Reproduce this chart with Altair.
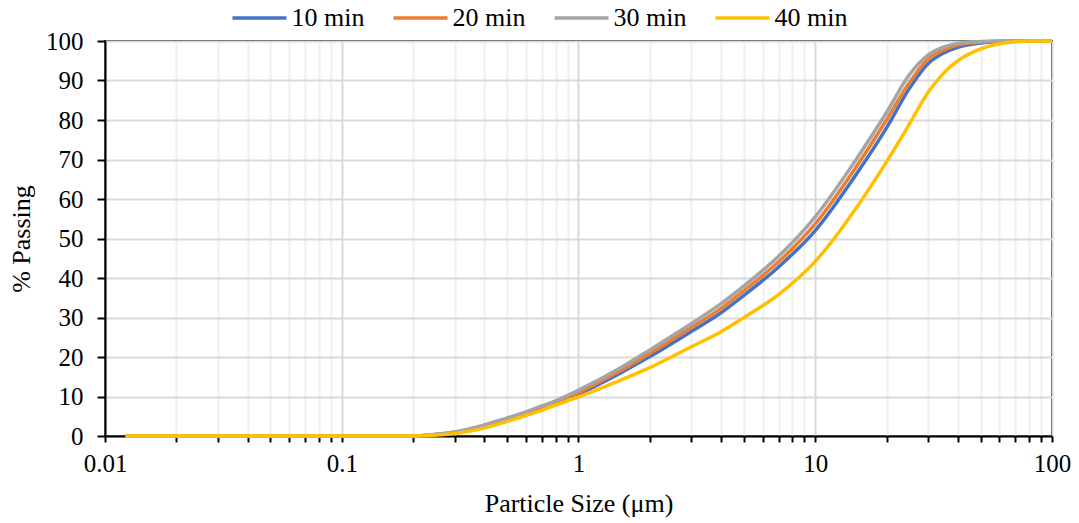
import altair as alt
import pandas as pd

# Particle size (µm) at which each cumulative curve is sampled
sizes = [0.0122, 0.05, 0.1, 0.15, 0.2, 0.25, 0.3, 0.4, 0.5, 0.6, 0.7, 0.8, 1, 1.5, 2, 3,
         4, 5, 7, 10, 15, 20, 25, 30, 35, 40, 50, 60, 70, 80, 100]

# Cumulative % passing for each grinding time
passing_10 = [0, 0, 0, 0, 0, 0.35, 0.85, 2.4, 4.0, 5.5, 6.9, 8.2, 10.6, 15.9, 20.1, 26.5,
              31.2, 35.6, 42.8, 52.0, 66.5, 78.0, 88.0, 94.3, 97.0, 98.4, 99.5, 99.85, 100, 100, 100]
passing_20 = [0, 0, 0, 0, 0, 0.4, 0.95, 2.6, 4.3, 5.8, 7.2, 8.5, 11.0, 16.5, 20.9, 27.5,
              32.3, 36.8, 44.1, 53.7, 68.4, 80.0, 89.5, 95.5, 97.8, 99.0, 99.7, 99.95, 100, 100, 100]
passing_30 = [0, 0, 0, 0, 0, 0.45, 1.0, 2.8, 4.6, 6.1, 7.6, 8.9, 11.6, 17.2, 21.8, 28.5,
              33.5, 38.0, 45.5, 55.5, 70.3, 81.9, 91.5, 96.5, 98.5, 99.4, 99.85, 100, 100, 100, 100]
passing_40 = [0, 0, 0, 0, 0, 0.25, 0.65, 2.0, 3.7, 5.2, 6.5, 7.8, 9.9, 14.1, 17.3, 22.6,
              26.4, 30.0, 35.8, 44.2, 58.0, 69.4, 79.0, 87.0, 92.0, 95.0, 98.0, 99.3, 99.8, 100, 100]

series_names = ["10 min", "20 min", "30 min", "40 min"]
series_colors = ["#4472C4", "#ED7D31", "#A5A5A5", "#FFC000"]

# Tick positions: every 1..9 multiple of each decade
x_ticks = []
for dec in [0.01, 0.1, 1, 10]:
    for m in range(1, 10):
        x_ticks.append(round(m * dec, 6))
x_ticks.append(100)
y_ticks = list(range(0, 101, 10))

rows = []
for name, vals in zip(series_names, [passing_10, passing_20, passing_30, passing_40]):
    for s, v in zip(sizes, vals):
        rows.append({"size": s, "passing": v, "series": name})
df = pd.DataFrame(rows)

FONT = "Liberation Serif"
is_decade = "abs(log(datum.value)/LN10 - round(log(datum.value)/LN10)) < 1e-6"

chart = alt.Chart(df).mark_line(strokeWidth=3.5, interpolate="monotone").encode(
    x=alt.X(
        "size:Q",
        scale=alt.Scale(type="log", domain=[0.01, 100], nice=False),
        axis=alt.Axis(
            values=x_ticks,
            labelExpr=f"({is_decade}) ? format(datum.value, '~r') : ''",
            title="Particle Size (μm)",
            titleX=473.5,
            titleY=75,
            titleBaseline="alphabetic",
            titleAlign="center",
            gridColor={"condition": {"test": is_decade, "value": "#d9d9d9"}, "value": "#f0f0f0"},
            gridWidth=2,
            tickSize=6,
            tickWidth=2,
            tickColor="#000000",
            domainColor="#000000",
            domainWidth=2,
            labelPadding=9,
            labelFlush=False,
            labelOverlap=False,
        ),
    ),
    y=alt.Y(
        "passing:Q",
        scale=alt.Scale(domain=[0, 100], nice=False),
        axis=alt.Axis(
            values=y_ticks,
            title="% Passing",
            titleAngle=270,
            titleX=-76,
            titleY=197.5,
            titleBaseline="alphabetic",
            titleAlign="center",
            gridColor="#d9d9d9",
            gridWidth=2,
            tickSize=8,
            tickWidth=2,
            tickColor="#000000",
            domainColor="#000000",
            domainWidth=2,
            labelPadding=14,
        ),
    ),
    color=alt.Color(
        "series:N",
        scale=alt.Scale(domain=series_names, range=series_colors),
        legend=alt.Legend(
            title=None,
            orient="none",
            direction="horizontal",
            legendX=125.5,
            legendY=-52,
            symbolType="stroke",
            symbolSize=2916,
            symbolStrokeWidth=3.5,
            labelFont=FONT,
            labelFontSize=26,
            labelColor="#000000",
            labelOffset=3,
            columnPadding=22,
            padding=0,
        ),
    ),
).properties(
    width=947,
    height=395,
    background="#ffffff",
    autosize=alt.AutoSizeParams(type="none"),
    padding={"left": 105, "top": 41, "right": 27, "bottom": 87},
).configure_axis(
    labelFont=FONT,
    labelFontSize=25,
    labelColor="#000000",
    titleFont=FONT,
    titleFontSize=26,
    titleColor="#000000",
    titleFontWeight="normal",
).configure_view(
    stroke="#1a1a1a",
    strokeWidth=2,
)

chart.save("out.html", embed_options={"renderer": "svg", "actions": False})
